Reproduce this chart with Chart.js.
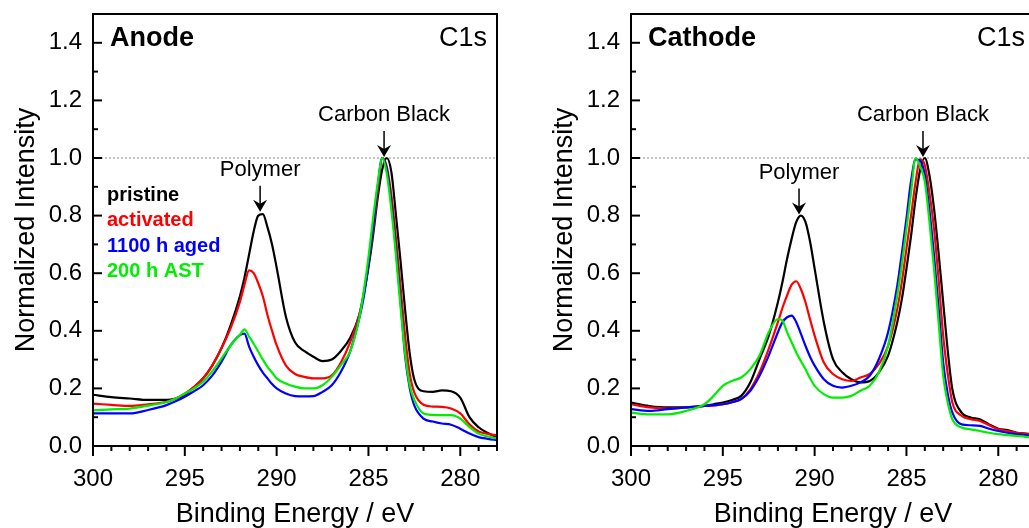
<!DOCTYPE html>
<html lang="en">
<head>
<meta charset="UTF-8">
<title>C1s spectra - Anode / Cathode</title>
<script src="https://cdn.jsdelivr.net/npm/chart.js"></script>
<style>
  html, body { margin: 0; padding: 0; background: #fff; overflow: hidden; width: 1029px; height: 528px; }
  canvas { position: absolute; top: 0; background: #fff; }
  #anodeChart { left: 0; }
  #cathodeChart { left: 538px; }
</style>
</head>
<body>
<canvas id="anodeChart" width="520" height="528"></canvas>
<canvas id="cathodeChart" width="520" height="528"></canvas>
<script>
// binding energy grid (eV) shared by all spectra
const energy = [300, 299, 298, 297, 296, 295.5, 295, 294.5, 294, 293.5, 293, 292.5, 292,
  291.75, 291.5, 291.25, 291, 290.75, 290.5, 290.25, 290, 289.5, 289, 288.5, 288,
  287.5, 287, 286.5, 286, 285.5, 285.25, 285, 284.75, 284.5, 284.25, 284,
  283.75, 283.5, 283.25, 283, 282.75, 282.5, 282, 281.5, 281, 280.5, 280, 279.5, 279, 278.5, 278];

const seriesLabels = ['pristine', 'activated', '1100 h aged', '200 h AST'];
const seriesColors = ['#000000', '#ff0000', '#0000ff', '#00ee00'];

// Anode
const anodePristine = [.178, .170, .165, .160, .160, .165, .178, .205, .235, .28, .34, .42, .52,
  .585, .665, .745, .80, .805, .76, .70, .62, .45, .36, .33, .31,
  .295, .30, .33, .375, .455, .53, .62, .73, .86, .96, 1.0,
  .95, .80, .64, .47, .32, .23, .19, .188, .193, .19, .168, .10, .065, .045, .03];
const anodeActivated = [.147, .143, .139, .145, .153, .165, .182, .205, .235, .28, .34, .41, .50,
  .56, .61, .60, .565, .52, .455, .40, .35, .28, .25, .24, .235,
  .235, .245, .29, .36, .455, .53, .63, .75, .88, 1.0, .97,
  .87, .72, .55, .38, .25, .185, .143, .137, .136, .13, .113, .075, .05, .042, .037];
const anodeAged = [.113, .113, .113, .125, .142, .155, .171, .19, .211, .245, .293, .35, .385,
  .39, .345, .31, .28, .255, .235, .215, .20, .182, .173, .172, .173,
  .188, .211, .258, .328, .444, .52, .63, .76, .90, 1.0, .96,
  .84, .68, .50, .31, .20, .14, .095, .085, .078, .074, .06, .043, .031, .025, .02];
const anodeAst = [.124, .127, .13, .14, .153, .165, .182, .20, .223, .26, .304, .35, .386,
  .405, .38, .355, .328, .30, .275, .255, .235, .217, .206, .20, .20,
  .211, .24, .281, .328, .444, .54, .655, .79, .91, 1.0, .945,
  .82, .66, .48, .32, .21, .16, .113, .108, .107, .107, .095, .066, .043, .033, .026];

// Cathode
const cathodePristine = [.151, .139, .134, .134, .139, .145, .151, .16, .174, .221, .302, .383, .499,
  .57, .65, .72, .778, .80, .778, .71, .616, .43, .302, .256, .232,
  .221, .226, .256, .314, .43, .51, .616, .73, .86, .96, 1.0,
  .94, .825, .67, .499, .33, .197, .116, .099, .093, .075, .06, .055, .046, .043, .04];
const cathodeActivated = [.145, .134, .13, .134, .139, .14, .145, .152, .163, .197, .256, .337, .43,
  .48, .523, .56, .572, .545, .499, .44, .383, .29, .25, .232, .226,
  .238, .25, .285, .348, .476, .57, .685, .80, .918, .995, .975,
  .88, .755, .58, .383, .25, .151, .105, .093, .087, .072, .058, .052, .046, .042, .038];
const cathodeAged = [.128, .122, .128, .134, .139, .142, .145, .152, .163, .192, .244, .314, .395,
  .43, .447, .453, .43, .39, .348, .31, .279, .232, .209, .203, .209,
  .221, .244, .302, .395, .557, .67, .79, .92, .995, .99, .941,
  .82, .662, .48, .29, .18, .116, .075, .072, .07, .06, .052, .046, .041, .038, .035];
const cathodeAst = [.116, .11, .11, .122, .145, .174, .209, .226, .238, .267, .314, .395, .441,
  .435, .395, .36, .325, .295, .267, .235, .209, .18, .168, .168, .174,
  .192, .209, .256, .348, .523, .63, .755, .88, 1.0, .97, .918,
  .78, .616, .43, .244, .15, .093, .064, .058, .052, .046, .041, .038, .035, .032, .03];

// peak annotations
const peakNames = ['Polymer', 'Carbon Black'];
const anodePeakEnergy = [290.9, 284.15];
const anodePeakHeight = [0.81, 1.0];
const cathodePeakEnergy = [290.85, 284.1];
const cathodePeakHeight = [0.80, 1.0];
const refLevel = 1.0;

const FONT = "'Liberation Sans', Arial, sans-serif";

function drawArrow(ctx, x, yTop, yTip) {
  ctx.beginPath();
  ctx.moveTo(x, yTop);
  ctx.lineTo(x, yTip - 6);
  ctx.stroke();
  ctx.beginPath();
  ctx.moveTo(x, yTip);
  ctx.lineTo(x - 7, yTip - 12);
  ctx.lineTo(x, yTip - 8);
  ctx.lineTo(x + 7, yTip - 12);
  ctx.closePath();
  ctx.fill();
}

function decorations(panel) {
  return {
    id: 'decor',
    beforeDatasetsDraw(chart) {
      const {ctx, chartArea: a, scales: {y}} = chart;
      const py = y.getPixelForValue(refLevel);
      ctx.save();
      ctx.strokeStyle = '#8a8a8a';
      ctx.lineWidth = 1;
      ctx.setLineDash([2, 2]);
      ctx.beginPath();
      ctx.moveTo(a.left, py);
      ctx.lineTo(a.right, py);
      ctx.stroke();
      ctx.restore();
    },
    afterDatasetsDraw(chart) {
      const {ctx, chartArea: a, scales: {x, y}} = chart;
      ctx.save();
      ctx.strokeStyle = '#000';
      ctx.fillStyle = '#000';
      ctx.lineWidth = 2;
      ctx.strokeRect(a.left, a.top, a.right - a.left, a.bottom - a.top);

      // y ticks, inward
      for (let i = 0; i < 15; i++) {
        const py = y.getPixelForValue(i / 10);
        const len = i % 2 === 0 ? 9 : 5;
        ctx.beginPath();
        ctx.moveTo(a.left, py);
        ctx.lineTo(a.left + len, py);
        ctx.stroke();
      }
      // x ticks, outward
      for (let e = 278; e <= 300; e++) {
        const px = x.getPixelForValue(e);
        const len = e % 5 === 0 ? 10 : 5;
        ctx.beginPath();
        ctx.moveTo(px, a.bottom);
        ctx.lineTo(px, a.bottom + len);
        ctx.stroke();
      }

      // panel titles
      ctx.textBaseline = 'middle';
      ctx.textAlign = 'left';
      ctx.font = 'bold 27px ' + FONT;
      ctx.fillText(panel.name, a.left + 17, a.top + 25);
      ctx.textAlign = 'right';
      ctx.font = '27px ' + FONT;
      ctx.fillText('C1s', a.right - 10, a.top + 25);

      // peak labels with arrows
      ctx.textAlign = 'center';
      ctx.font = '22px ' + FONT;
      ctx.lineWidth = 1.5;
      peakNames.forEach((name, i) => {
        const px = x.getPixelForValue(panel.peakEnergy[i]);
        const tip = y.getPixelForValue(panel.peakHeight[i]) - 1;
        drawArrow(ctx, px, tip - 26, tip);
        ctx.fillText(name, px, tip - 42);
      });

      // legend as coloured text
      if (panel.legend) {
        ctx.textAlign = 'left';
        ctx.font = 'bold 20px ' + FONT;
        seriesLabels.forEach((lab, i) => {
          ctx.fillStyle = seriesColors[i];
          ctx.fillText(lab, a.left + 14, a.top + 181 + i * 25.6);
        });
      }
      ctx.restore();
    }
  };
}

function makeChart(id, panel) {
  return new Chart(document.getElementById(id), {
    type: 'line',
    data: {
      datasets: panel.series.map((vals, i) => ({
        label: seriesLabels[i],
        data: energy.map((e, j) => ({x: e, y: vals[j]})),
        borderColor: seriesColors[i],
        borderWidth: 2.2,
        pointRadius: 0,
        fill: false,
        cubicInterpolationMode: 'monotone',
        order: panel.series.length - i
      }))
    },
    options: {
      responsive: false,
      animation: false,
      devicePixelRatio: 1,
      layout: {padding: {top: 14, right: 23, left: 0, bottom: 0}},
      plugins: {legend: {display: false}, tooltip: {enabled: false}},
      scales: {
        x: {
          type: 'linear', reverse: true, min: 278, max: 300,
          grid: {display: false, drawTicks: false},
          border: {display: false},
          ticks: {
            stepSize: 5, includeBounds: false, autoSkip: false, maxRotation: 0,
            padding: 19, color: '#000', font: {family: FONT, size: 24},
            callback: v => v
          },
          title: {
            display: true, text: 'Binding Energy / eV', color: '#000',
            font: {family: FONT, size: 27}, padding: {top: 0, bottom: -3}
          },
          afterFit: s => {
            s.height = 82;
            s.paddingLeft = 0;
            s.paddingRight = 0;
          }
        },
        y: {
          type: 'linear', min: 0, max: 1.5,
          grid: {display: false, drawTicks: false},
          border: {display: false},
          ticks: {
            stepSize: 0.2, includeBounds: false, autoSkip: false,
            padding: 11, color: '#000', font: {family: FONT, size: 24},
            callback: v => v.toFixed(1)
          },
          title: {
            display: true, text: 'Normalized Intensity', color: '#000',
            font: {family: FONT, size: 27}, padding: {top: 10, bottom: 0}
          },
          afterFit: s => {
            s.width = 93;
            s.paddingTop = 0;
            s.paddingBottom = 0;
          }
        }
      }
    },
    plugins: [decorations(panel)]
  });
}

makeChart('anodeChart', {
  name: 'Anode',
  series: [anodePristine, anodeActivated, anodeAged, anodeAst],
  peakEnergy: anodePeakEnergy,
  peakHeight: anodePeakHeight,
  legend: true
});
makeChart('cathodeChart', {
  name: 'Cathode',
  series: [cathodePristine, cathodeActivated, cathodeAged, cathodeAst],
  peakEnergy: cathodePeakEnergy,
  peakHeight: cathodePeakHeight,
  legend: false
});
</script>
</body>
</html>
